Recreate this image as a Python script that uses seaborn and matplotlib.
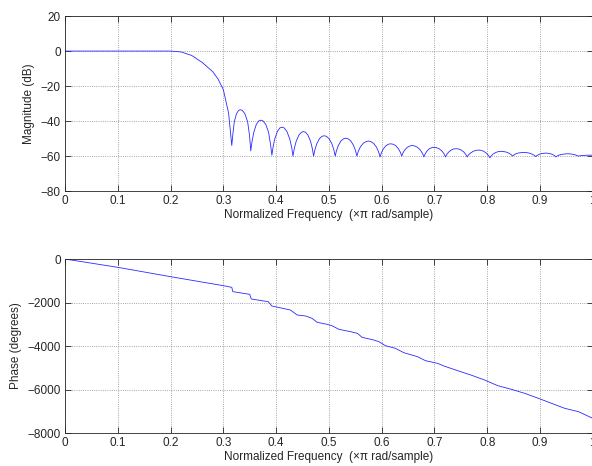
import numpy as np
import pandas as pd
import matplotlib
matplotlib.use("Agg")
import matplotlib.pyplot as plt
import seaborn as sns

# magnitude response (normalized freq, dB)
mag_freq = [0.0, 0.1, 0.2, 0.22, 0.24, 0.25, 0.26, 0.28, 0.29, 0.30, 0.31,
            0.316, 0.3179, 0.3208, 0.3248, 0.3288, 0.332, 0.336, 0.341, 0.346, 0.3496,
            0.352, 0.3543, 0.3577, 0.3625, 0.3672, 0.371, 0.3752, 0.3804, 0.3857, 0.3895,
            0.392, 0.3943, 0.3977, 0.4025, 0.4072, 0.411, 0.4152, 0.4204, 0.4257, 0.4295,
            0.432, 0.4344, 0.438, 0.443, 0.448, 0.452, 0.4558, 0.4605, 0.4653, 0.4687,
            0.471, 0.4734, 0.477, 0.482, 0.487, 0.491, 0.4952, 0.5004, 0.5057, 0.5095,
            0.512, 0.5144, 0.518, 0.523, 0.528, 0.532, 0.5362, 0.5414, 0.5467, 0.5505,
            0.553, 0.5556, 0.5596, 0.5651, 0.5706, 0.575, 0.5794, 0.5849, 0.5904, 0.5944,
            0.597, 0.5994, 0.603, 0.608, 0.613, 0.617, 0.6212, 0.6264, 0.6317, 0.6355,
            0.638, 0.6404, 0.644, 0.649, 0.654, 0.658, 0.6624, 0.6679, 0.6734, 0.6774,
            0.680, 0.6823, 0.6857, 0.6905, 0.6952, 0.699, 0.7034, 0.7089, 0.7144, 0.7184,
            0.721, 0.7234, 0.727, 0.732, 0.737, 0.741, 0.7452, 0.7504, 0.7557, 0.7595,
            0.762, 0.7646, 0.7686, 0.7741, 0.7796, 0.784, 0.7882, 0.7934, 0.7987, 0.8025,
            0.805, 0.8075, 0.8113, 0.8166, 0.8218, 0.826, 0.8304, 0.8359, 0.8414, 0.8454,
            0.848, 0.8505, 0.8543, 0.8596, 0.8648, 0.869, 0.8736, 0.8794, 0.8851, 0.8892,
            0.892, 0.8943, 0.8977, 0.9025, 0.9072, 0.911, 0.9148, 0.9195, 0.9243, 0.9277,
            0.930, 0.9325, 0.9363, 0.9416, 0.9468, 0.951, 0.9552, 0.9604, 0.9657, 0.9695,
            0.972, 0.98, 0.99, 1.0]
mag_db = [0.0, 0.0, 0.0, -0.5, -2.5, -4.5, -6.5, -11.8, -16.0, -22.0, -35.5,
          -54.0, -47.9, -40.4, -35.9, -33.9, -33.5, -33.9, -35.9, -40.4, -48.1,
          -57.0, -51.8, -46.4, -41.9, -39.9, -39.5, -39.9, -41.9, -46.4, -53.5,
          -59.5, -54.7, -49.9, -45.9, -43.9, -43.5, -43.9, -45.9, -50.1, -55.0,
          -60.0, -55.8, -51.6, -48.1, -46.4, -46.0, -46.4, -48.1, -51.6, -55.8,
          -60.0, -56.5, -53.0, -50.1, -48.7, -48.4, -48.7, -50.1, -53.0, -56.5,
          -60.0, -56.9, -53.9, -51.3, -50.1, -49.8, -50.1, -51.3, -53.9, -56.9,
          -60.0, -57.4, -54.8, -52.7, -51.7, -51.4, -51.7, -52.8, -55.0, -57.8,
          -60.5, -58.2, -56.0, -54.1, -53.2, -53.0, -53.2, -54.0, -55.8, -57.9,
          -60.0, -58.2, -56.4, -54.9, -54.2, -54.0, -54.2, -55.0, -56.6, -58.5,
          -60.5, -58.8, -57.2, -55.8, -55.2, -55.0, -55.2, -55.8, -57.2, -58.8,
          -60.5, -59.1, -57.7, -56.5, -55.9, -55.8, -55.9, -56.5, -57.7, -59.1,
          -60.5, -59.3, -58.2, -57.2, -56.7, -56.6, -56.7, -57.3, -58.4, -59.7,
          -61.0, -59.9, -58.8, -57.9, -57.4, -57.3, -57.4, -57.7, -58.4, -59.2,
          -60.0, -59.4, -58.7, -58.2, -58.0, -57.9, -58.0, -58.3, -58.9, -59.6,
          -60.3, -59.7, -59.1, -58.6, -58.4, -58.3, -58.4, -58.6, -59.2, -59.8,
          -60.5, -60.0, -59.4, -59.0, -58.8, -58.7, -58.7, -58.9, -59.2, -59.6,
          -60.0, -59.7, -59.5, -59.5]

# phase response (normalized freq, degrees)
ph_freq = [0.0, 0.1, 0.2, 0.3, 0.316, 0.318, 0.35, 0.353, 0.385, 0.392,
           0.427, 0.44, 0.456, 0.468, 0.478, 0.497, 0.507, 0.519, 0.541,
           0.554, 0.563, 0.585, 0.595, 0.607, 0.626, 0.642, 0.668, 0.683,
           0.706, 0.718, 0.744, 0.769, 0.795, 0.820, 0.846, 0.871, 0.897,
           0.922, 0.947, 0.973, 1.0]
ph_deg = [0, -383, -812, -1226, -1303, -1502, -1625, -1839, -1962, -2161,
          -2345, -2575, -2620, -2728, -2912, -3004, -3080, -3234, -3341,
          -3418, -3602, -3724, -3801, -3985, -4107, -4307, -4491, -4675,
          -4797, -4920, -5134, -5333, -5563, -5824, -5992, -6176, -6406,
          -6636, -6866, -7019, -7326]

x_ticks = [0, 0.1, 0.2, 0.3, 0.4, 0.5, 0.6, 0.7, 0.8, 0.9, 1]
x_ticklabels = ["0", "0.1", "0.2", "0.3", "0.4", "0.5", "0.6",
                "0.7", "0.8", "0.9", "1"]
x_label = "Normalized Frequency  (\u00d7\u03c0 rad/sample)"

sns.set_style("ticks")
plt.rcParams["font.family"] = ["Liberation Sans", "DejaVu Sans"]
plt.rcParams["font.size"] = 8.5
plt.rcParams["xtick.direction"] = "in"
plt.rcParams["ytick.direction"] = "in"

fig = plt.figure(figsize=(5.92, 4.66), dpi=100)
ax1 = fig.add_axes([0.1098, 0.590, 0.8915, 0.3755])
ax2 = fig.add_axes([0.1098, 0.0708, 0.8915, 0.3734])

mag_df = pd.DataFrame({"freq": mag_freq, "db": mag_db})
ph_df = pd.DataFrame({"freq": ph_freq, "deg": ph_deg})

sns.lineplot(data=mag_df, x="freq", y="db", ax=ax1, color="#2a2aff",
             lw=0.6, estimator=None, sort=False)
sns.lineplot(data=ph_df, x="freq", y="deg", ax=ax2, color="#2a2aff",
             lw=0.6, estimator=None, sort=False)

ax1.set_ylim(-80, 20)
ax1.set_yticks([-80, -60, -40, -20, 0, 20])
ax1.set_ylabel("Magnitude (dB)")
ax2.set_ylim(-8000, 0)
ax2.set_yticks([-8000, -6000, -4000, -2000, 0])
ax2.set_ylabel("Phase (degrees)")

for ax in (ax1, ax2):
    ax.set_xlim(0, 1)
    ax.set_xticks(x_ticks)
    ax.set_xticklabels(x_ticklabels)
    ax.set_xlabel(x_label, labelpad=1)
    ax.grid(True, linestyle=":", color="#888888", linewidth=0.6)
    ax.tick_params(top=True, right=True, length=4, width=0.6,
                   labelsize=8.5, pad=3)
    for sp in ax.spines.values():
        sp.set_linewidth(0.6)

fig.savefig("out.png", dpi=100)
